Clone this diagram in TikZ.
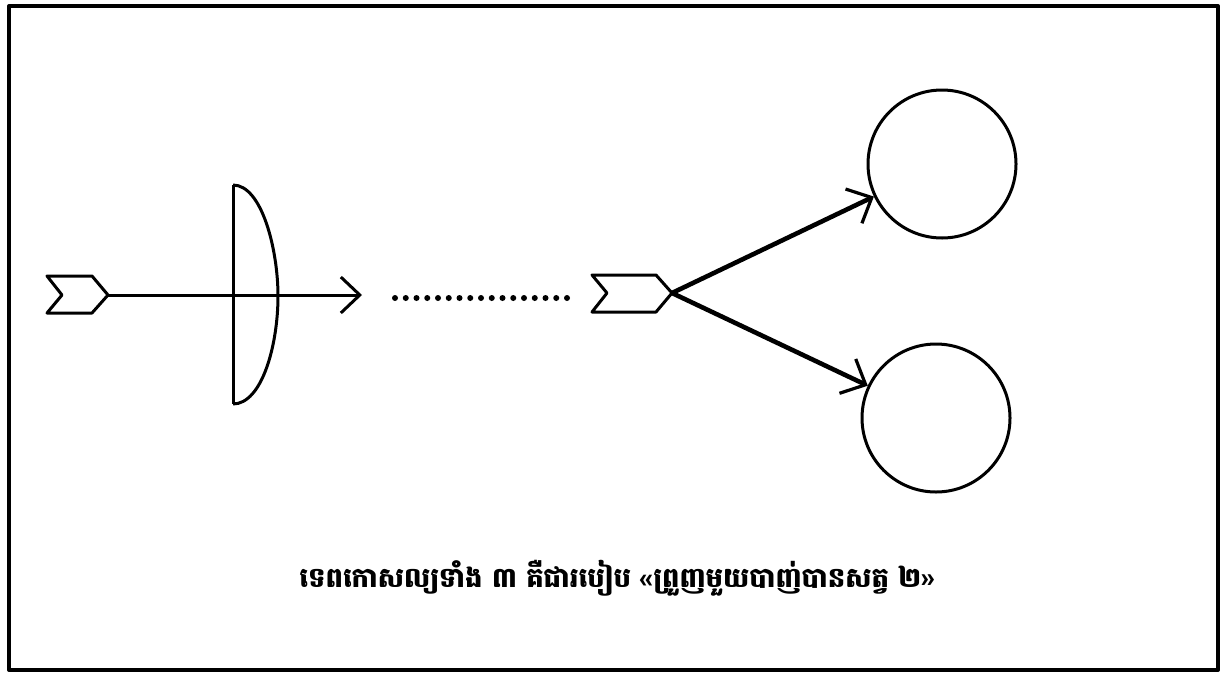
\documentclass[tikz,border=0pt]{standalone}
\usepackage{fontspec}
\newfontfamily\khmerfont[Script=Khmer]{Battambang}
\usetikzlibrary{arrows.meta}
\begin{document}
\begin{tikzpicture}[x=1pt,y=-1pt,
  line join=round,
  frame/.style={line width=4pt},
  thin line/.style={line width=3pt},
  thick arrow/.style={line width=4.6pt,-{Straight Barb[length=20pt,width=38pt,line width=3.2pt]}},
  shaft/.style={line width=3pt,-{Straight Barb[length=19pt,width=36pt]}},
  target/.style={circle,draw,line width=3pt,minimum size=148pt,inner sep=0pt},
  dots/.style={line width=6pt,line cap=round,dash pattern=on 0pt off 10.75pt}
]
\useasboundingbox (0,0) rectangle (1222,675);
\draw[frame] (9,6) rectangle (1218,670);

% first arrow (through the bow)
\coordinate (n1) at (108,295);
\coordinate (h1) at (362,295);
\draw[thin line] (n1) -- ++(-16,-19) -- ++(-45,0) -- ++(15,19) -- ++(-15,18) -- ++(45,0) -- cycle;
\draw[shaft] (n1) -- (h1);

% bow
\coordinate (bt) at (233,185);
\coordinate (bb) at (233,404);
\draw[thin line] (bt) -- (bb);
\draw[thin line] (bt) .. controls (262,185) and (278,250) .. (278,296)
                      .. controls (278,345) and (262,404) .. (bb);

% dots
\coordinate (d1) at (395,298);
\coordinate (d2) at (568,298);
\draw[dots] (d1) -- (d2);

% second arrow
\coordinate (n2) at (672,293);
\draw[thin line] (n2) -- ++(-16,-18) -- ++(-64,0) -- ++(15,18) -- ++(-15,19) -- ++(64,0) -- cycle;

% targets
\node[target] (c1) at (942,164) {};
\node[target] (c2) at (936,418) {};
\draw[thick arrow] (n2) -- (c1);
\draw[thick arrow] (n2) -- (c2);

% caption
\node (cap) at (617,578) {\khmerfont\bfseries\fontsize{27.5}{34}\selectfont ទេពកោសល្យទាំង ៣ គឺជារបៀប «ព្រួញមួយបាញ់បានសត្វ ២»};
\end{tikzpicture}
\end{document}
